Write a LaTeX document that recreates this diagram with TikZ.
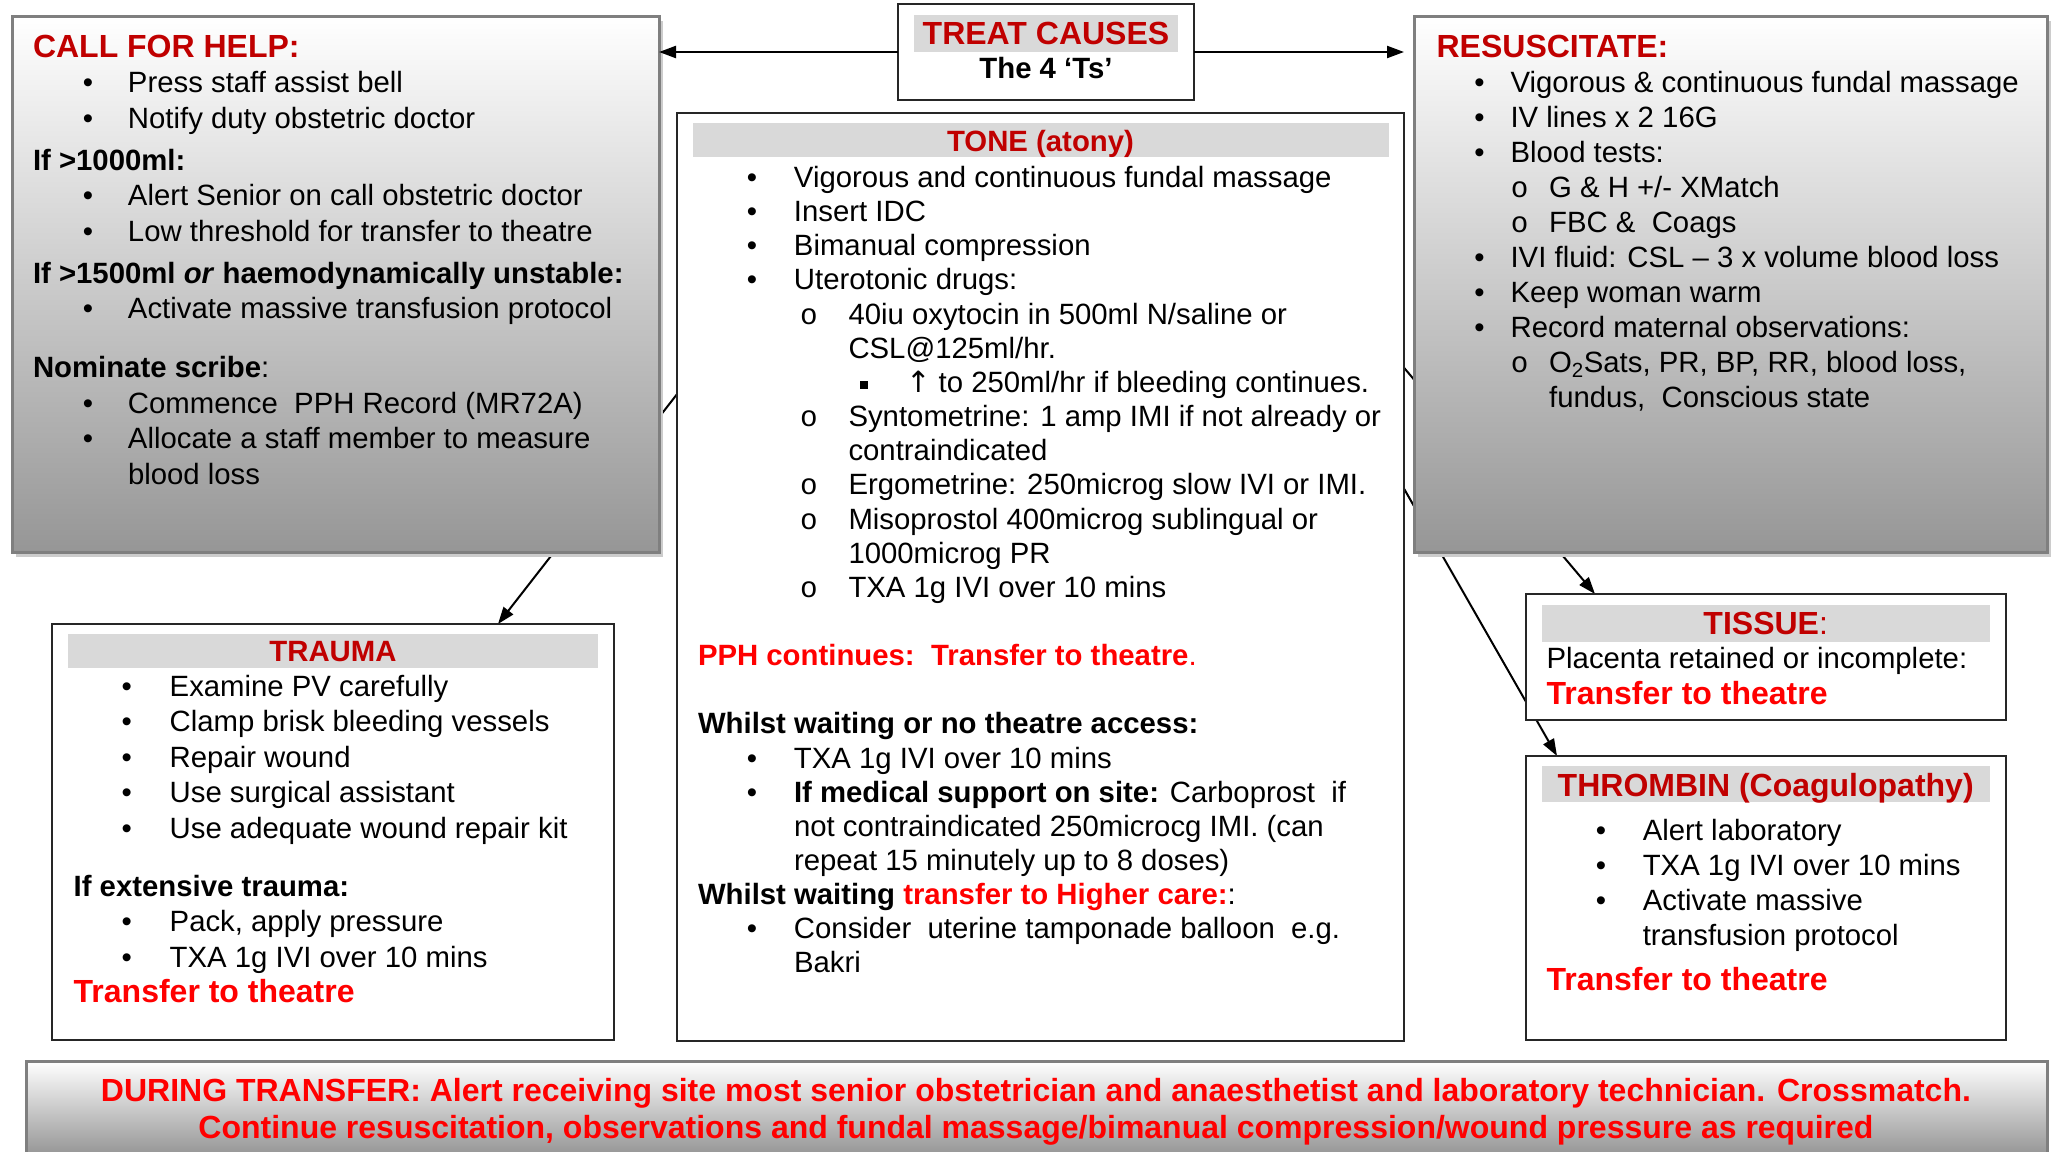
\documentclass[tikz,border=0pt]{standalone}
\usepackage{fontspec}
\setmainfont{Liberation Sans}
\newfontfamily\symf{DejaVu Sans}
\newfontfamily\monof{Liberation Mono}
\usetikzlibrary{arrows.meta,shadows,backgrounds}
\definecolor{dred}{HTML}{C00000}
\definecolor{bred}{HTML}{FF0000}
\definecolor{barg}{HTML}{D9D9D9}
\definecolor{gbot}{HTML}{969696}
\definecolor{gbord}{HTML}{7F7F7F}
\newcommand\headf{\fontsize{32}{35}\selectfont\bfseries}
\newcommand\subf{\fontsize{29.33}{34}\selectfont\bfseries}
\newcommand\Bu[3]{\hspace*{#1pt}\makebox[0pt][c]{•}\hspace*{\dimexpr#2pt-#1pt\relax}#3}
\newcommand\Ci[3]{\hspace*{#1pt}\makebox[0pt][c]{\monof o}\hspace*{\dimexpr#2pt-#1pt\relax}#3}
\newcommand\Sq[3]{\hspace*{#1pt}\makebox[0pt][c]{\raisebox{3pt}{\rule{8pt}{8pt}}}\hspace*{\dimexpr#2pt-#1pt\relax}#3}
\newcommand\In[2]{\hspace*{#1pt}#2}
\tikzset{
  plainbox/.style={draw=black!85, line width=2.5pt, fill=white, inner sep=0pt, outer sep=0pt, anchor=north west},
  gradbox/.style={draw=gbord, line width=3pt, top color=white, bottom color=gbot, inner sep=0pt, outer sep=0pt, anchor=north west,
    general shadow={fill=black!20, shadow xshift=4pt, shadow yshift=-5pt}},
  titlebar/.style={fill=barg, inner sep=0pt, outer sep=0pt, anchor=north west},
  txt/.style={anchor=base west, inner sep=0pt, outer sep=0pt},
  ttl/.style={anchor=base, inner sep=0pt, outer sep=0pt, font=\headf, text=dred},
  conn/.style={line width=2pt, -{Triangle[length=17pt,width=12pt]}},
}
\begin{document}
\begin{tikzpicture}[x=1pt,y=-1pt]
\useasboundingbox (0,0) rectangle (2053,1151);

% boxes
\node[plainbox, minimum width=296, minimum height=96] (treat) at (898,4) {};
\node[plainbox, minimum width=727, minimum height=928] (tone) at (677,113) {};
\node[gradbox, minimum width=647, minimum height=536] (call) at (12,16) {};
\node[gradbox, minimum width=633, minimum height=536] (resus) at (1414,16) {};
\node[plainbox, minimum width=562, minimum height=416] (trauma) at (52,624) {};
\node[plainbox, minimum width=480, minimum height=126] (tissue) at (1526,594) {};
\node[plainbox, minimum width=480, minimum height=284] (thrombin) at (1526,756) {};
\node[draw=gbord, line width=3pt, top color=white, bottom color=gbot!95!black, inner sep=0pt, outer sep=0pt, anchor=north west,
      minimum width=2021, minimum height=100] (during) at (26,1061) {};

% title bars
\node[titlebar, minimum width=264, minimum height=37] (treatbar) at (914,14.5) {};
\node[titlebar, minimum width=695.5, minimum height=34] (tonebar) at (693,123) {};
\node[titlebar, minimum width=530, minimum height=33.7] (traumabar) at (68,634) {};
\node[titlebar, minimum width=448.2, minimum height=36.8] (tissuebar) at (1541.6,605) {};
\node[titlebar, minimum width=448.2, minimum height=36.5] (thrombbar) at (1541.6,765.5) {};

% connectors behind boxes
\begin{pgfonlayer}{background}
\draw[conn] ([xshift=-144.5pt]tone.north) -- ([xshift=165pt]trauma.north);
\draw[conn] ([xshift=148.5pt]tone.north) -- ([xshift=-171pt]tissue.north);
\draw[conn] ([xshift=148.5pt]tone.north) -- ([xshift=-209pt]thrombin.north);
\end{pgfonlayer}
\draw[conn, line width=2.2pt] (treat.west) -- (treat.west -| call.east);
\draw[conn, line width=2.2pt] (treat.east) -- (treat.east -| tone.east);

% titles
\node[ttl] (treatT) at (1046,44) {TREAT CAUSES};
\node[anchor=base, inner sep=0pt, font=\subf] (fourT) at (1046,78.5) {The 4 ‘Ts’};
\node[ttl, font=\subf] (toneT) at (1040.5,151) {TONE (atony)};
\node[ttl, font=\subf] (traumaT) at (333,661) {TRAUMA};
\node[ttl] (tissueT) at (1765.7,634.5) {TISSUE{\mdseries:}};
\node[ttl] (thrombT) at (1765.7,796) {THROMBIN (Coagulopathy)};

% call for help
\node[txt] (calltext) at (33,57) {\parbox[t]{620pt}{\raggedright\fontsize{29.33}{35.5}\selectfont\leavevmode
{\headf\color{dred}CALL FOR HELP:}\\
\Bu{55}{95}{Press staff assist bell}\\
\Bu{55}{95}{Notify duty obstetric doctor}\\[6.5pt]
\textbf{If >1000ml:}\\
\Bu{55}{95}{Alert Senior on call obstetric doctor}\\
\Bu{55}{95}{Low threshold for transfer to theatre}\\[6.5pt]
\textbf{If >1500ml \textit{or} haemodynamically unstable:}\\
\Bu{55}{95}{Activate massive transfusion protocol}\\[23.5pt]
\textbf{Nominate scribe}:\\
\Bu{55}{95}{Commence\ \ PPH Record (MR72A)}\\
\Bu{55}{95}{Allocate a staff member to measure}\\
\In{95}{blood loss}}};

% resuscitate
\node[txt] (resustext) at (1436.6,57) {\parbox[t]{600pt}{\raggedright\fontsize{29.33}{35}\selectfont\leavevmode
{\headf\color{dred}RESUSCITATE:}\\
\Bu{43}{74}{Vigorous \& continuous fundal massage}\\
\Bu{43}{74}{IV lines x 2 16G}\\
\Bu{43}{74}{Blood tests:}\\
\Ci{83}{112.5}{G \& H +/- XMatch}\\
\Ci{83}{112.5}{FBC \&\ \ Coags}\\
\Bu{43}{74}{IVI fluid: CSL – 3 x volume blood loss}\\
\Bu{43}{74}{Keep woman warm}\\
\Bu{43}{74}{Record maternal observations:}\\
\Ci{83}{112.5}{O\textsubscript{2}Sats, PR, BP, RR, blood loss,}\\
\In{112.5}{fundus,\ \ Conscious state}}};

% tone
\node[txt] (tonetext) at (698,187.5) {\parbox[t]{690pt}{\raggedright\fontsize{29.33}{34.15}\selectfont\leavevmode
\Bu{54}{96}{Vigorous and continuous fundal massage}\\
\Bu{54}{96}{Insert IDC}\\
\Bu{54}{96}{Bimanual compression}\\
\Bu{54}{96}{Uterotonic drugs:}\\
\Ci{111}{150.5}{40iu oxytocin in 500ml N/saline or}\\
\In{150.5}{CSL@125ml/hr.}\\
\Sq{166}{208}{{\symf ↑} to 250ml/hr if bleeding continues.}\\
\Ci{111}{150.5}{Syntometrine: 1 amp IMI if not already or}\\
\In{150.5}{contraindicated}\\
\Ci{111}{150.5}{Ergometrine: 250microg slow IVI or IMI.}\\
\Ci{111}{150.5}{Misoprostol 400microg sublingual or}\\
\In{150.5}{1000microg PR}\\
\Ci{111}{150.5}{TXA 1g IVI over 10 mins}\\[34.15pt]
{\bfseries\color{bred}PPH continues:\ \ Transfer to theatre}{\color{bred}.}\\[34.15pt]
\textbf{Whilst waiting or no theatre access:}\\
\Bu{54}{96}{TXA 1g IVI over 10 mins}\\
\Bu{54}{96}{\textbf{If medical support on site:} Carboprost\ \ if}\\
\In{96}{not contraindicated 250microcg IMI. (can}\\
\In{96}{repeat 15 minutely up to 8 doses)}\\
\textbf{Whilst waiting {\color{bred}transfer to Higher care:}}:\\
\Bu{54}{96}{Consider\ \ uterine tamponade balloon\ \ e.g.}\\
\In{96}{Bakri}}};

% trauma
\node[txt] (traumatext) at (73.7,696) {\parbox[t]{530pt}{\raggedright\fontsize{29.33}{35.6}\selectfont\leavevmode
\Bu{53}{96}{Examine PV carefully}\\
\Bu{53}{96}{Clamp brisk bleeding vessels}\\
\Bu{53}{96}{Repair wound}\\
\Bu{53}{96}{Use surgical assistant}\\
\Bu{53}{96}{Use adequate wound repair kit}\\[22pt]
\textbf{If extensive trauma:}\\
\Bu{53}{96}{Pack, apply pressure}\\
\Bu{53}{96}{TXA 1g IVI over 10 mins}\\
{\headf\color{bred}Transfer to theatre}}};

% tissue
\node[txt] (tissuetext) at (1546.6,668.7) {\parbox[t]{450pt}{\raggedright\fontsize{29.33}{35.3}\selectfont\leavevmode
Placenta retained or incomplete:\\
{\headf\color{bred}Transfer to theatre}}};

% thrombin
\node[txt] (thrombtext) at (1546.6,840) {\parbox[t]{450pt}{\raggedright\fontsize{29.33}{35}\selectfont\leavevmode
\Bu{54.4}{96.2}{Alert laboratory}\\
\Bu{54.4}{96.2}{TXA 1g IVI over 10 mins}\\
\Bu{54.4}{96.2}{Activate massive}\\
\In{96.2}{transfusion protocol}\\[10pt]
{\headf\color{bred}Transfer to theatre}}};

% during transfer
\node[anchor=base, inner sep=0pt, outer sep=0pt, text=bred] (durtext) at (1036,1101.5) {\parbox[t]{2000pt}{\centering\fontsize{32}{36.5}\selectfont\bfseries\leavevmode
DURING TRANSFER: Alert receiving site most senior obstetrician and anaesthetist and laboratory technician. Crossmatch.\\
Continue resuscitation, observations and fundal massage/bimanual compression/wound pressure as required}};
\end{tikzpicture}
\end{document}
